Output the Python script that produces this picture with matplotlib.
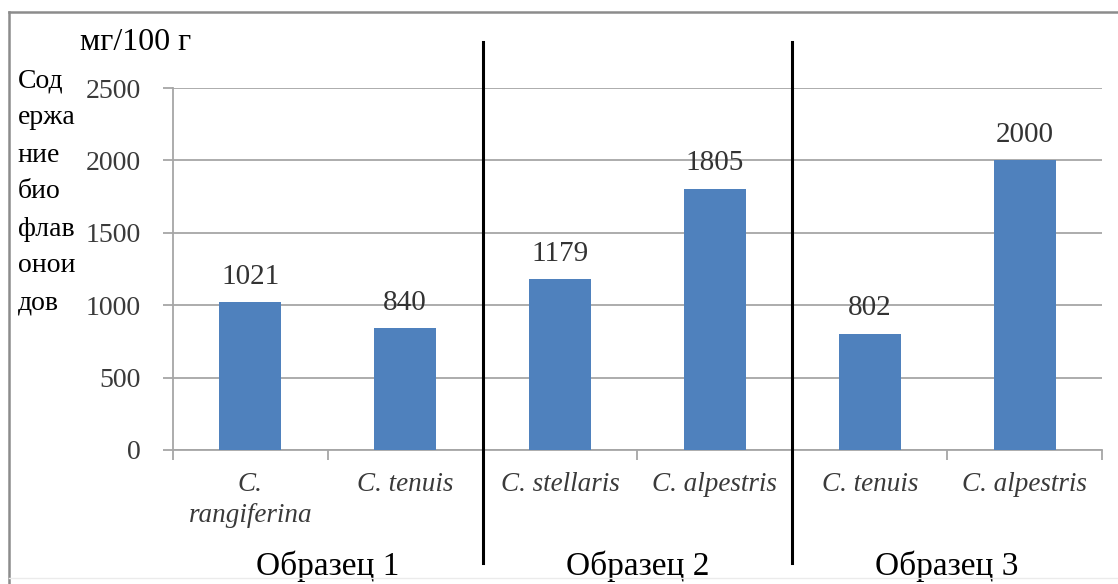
import numpy as np
import matplotlib

matplotlib.use('Agg')
import matplotlib.pyplot as plt
from matplotlib.lines import Line2D

species = ["C.\nrangiferina", "C. tenuis", "C. stellaris", "C. alpestris", "C. tenuis", "C. alpestris"]
values = [1021, 840, 1179, 1805, 802, 2000]
groups = ["Образец 1", "Образец 2", "Образец 3"]
yticks = [0, 500, 1000, 1500, 2000, 2500]
ylabel_lines = ["Сод", "ержа", "ние", "био", "флав", "онои", "дов"]

plt.rcParams['font.family'] = ['Liberation Serif', 'DejaVu Serif']

fig = plt.figure(figsize=(11.18, 5.84), dpi=100)
ax = fig.add_axes([0.1547, 0.2295, 0.831, 0.6198])

x = np.arange(len(values))
bars = ax.bar(x, values, width=0.4, color='#4F81BD', zorder=3)
for xi, v in zip(x, values):
    ax.annotate(str(v), (xi, v), xytext=(0, 9), textcoords='offset points',
                ha='center', va='bottom', fontsize=21, color='#333333')

ax.set_xlim(-0.5, len(values) - 0.5)
ax.set_ylim(0, 2500)
ax.set_yticks(yticks)
ax.set_yticklabels([str(t) for t in yticks], fontsize=20, color='#3a3a3a')
ax.yaxis.grid(True, color='#A6A6A6', linewidth=1.3, zorder=0)
ax.tick_params(axis='y', length=7, color='#A6A6A6', width=1.3, pad=16)

# category boundaries as ticks, labels in between
ax.set_xticks(np.arange(-0.5, len(values), 1.0))
ax.set_xticklabels([])
ax.set_xticks(x, minor=True)
ax.set_xticklabels(species, minor=True, fontsize=19.5, style='italic', color='#3a3a3a',
                   linespacing=1.3, va='top')
ax.tick_params(axis='x', which='major', length=7, color='#A6A6A6', width=1.3)
ax.tick_params(axis='x', which='minor', length=0, pad=16)

for side in ['top', 'right']:
    ax.spines[side].set_visible(False)
for side in ['left', 'bottom']:
    ax.spines[side].set_color('#A6A6A6')
    ax.spines[side].set_linewidth(1.3)

# group separators
for b in [1.5, 3.5]:
    ax.axvline(b, ymin=-0.312, ymax=1.127, color='black', linewidth=2.2, clip_on=False, zorder=5)

for i, g in enumerate(groups):
    ax.text(2 * i + 0.5, -0.322, g, transform=ax.get_xaxis_transform(),
            ha='center', va='center', fontsize=24)

fig.text(0.072, 1 - 43 / 584, "мг/100 г", fontsize=23, ha='left', va='center')
for i, s in enumerate(ylabel_lines):
    fig.text(0.016, 1 - (81 + 37 * i) / 584, s, fontsize=20, ha='left', va='center')

# frame: only top and left edges visible, faint bottom edge
top_y = 1 - 12 / 584
left_x = 9 / 1118
fig.add_artist(Line2D([left_x, 1.0], [top_y, top_y], transform=fig.transFigure,
                      color='#8C8C8C', linewidth=1.8))
fig.add_artist(Line2D([left_x, left_x], [0.0, top_y], transform=fig.transFigure,
                      color='#8C8C8C', linewidth=1.8))
fig.add_artist(Line2D([left_x, 1.0], [6 / 584, 6 / 584], transform=fig.transFigure,
                      color='#EBEBEB', linewidth=1.0))

fig.savefig('out.png', dpi=100)
